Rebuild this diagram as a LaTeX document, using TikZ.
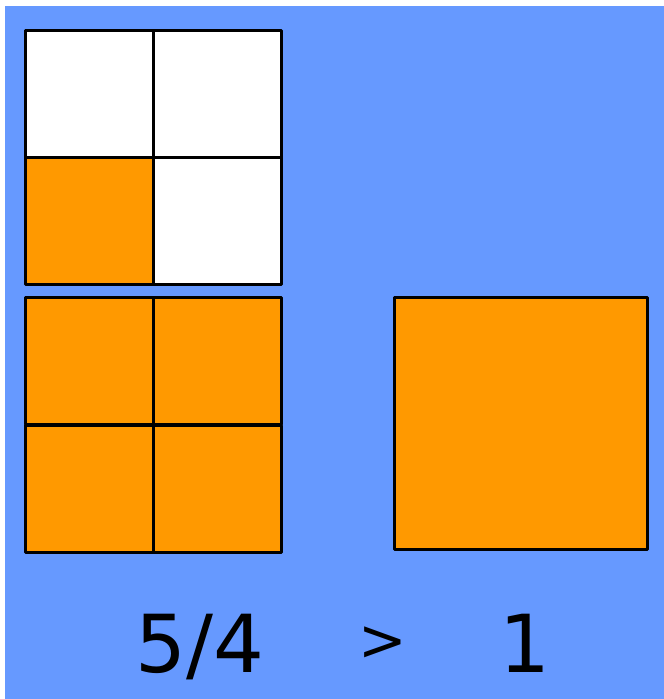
\documentclass[tikz,border=0pt]{standalone}
\usepackage{fontspec}
\setmainfont{DejaVu Sans}
\definecolor{fondo}{HTML}{6699FF}
\definecolor{naranja}{HTML}{FF9900}
\tikzset{
  celda/.style={draw=black, line width=3pt, line join=round},
  cifra/.style={anchor=base, inner sep=0pt, font=\fontsize{80}{90}\selectfont}
}
\begin{document}
\begin{tikzpicture}[x=1pt, y=-1pt]

\useasboundingbox (0,0) rectangle (664,699);
\fill[white] (0,0) rectangle (664,699);
\fill[fondo] (5,6) rectangle (664,699);

% Cuarto superior: 1 de 4
\foreach \x/\y/\c in {25/30/white, 153/30/white, 25/157/naranja, 153/157/white}
	\filldraw[celda, fill=\c] (\x,\y) rectangle ++(128,127);

% Unidad dividida en cuartos
\foreach \x in {25, 153}
	\foreach \y in {297, 425}
		\filldraw[celda, fill=naranja] (\x,\y) rectangle ++(128,127);

% Unidad entera
\filldraw[celda, fill=naranja] (394,297) rectangle (647,549);

% Comparacion
\node[cifra] (frac) at (200,672) {5/4};
\node[cifra, font=\fontsize{58}{64}\selectfont] (mayor) at (383,660) {>};
\node[cifra] (uno) at (525,672) {1};
\end{tikzpicture}
\end{document}
